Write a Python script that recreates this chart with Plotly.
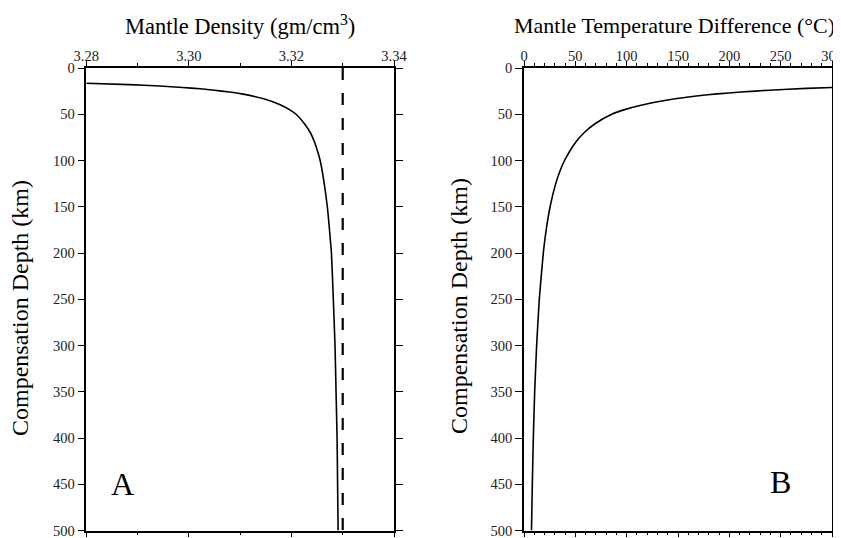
import plotly.graph_objects as go

# ---- data ----
depth_rho = [16.5, 18, 19.5, 21, 22.5, 24, 26, 28, 31, 33, 36, 40, 45, 50, 60, 70, 80, 90,
             100, 118, 150, 180, 200, 240, 300, 350, 400, 450, 500]
density = [3.2800, 3.2883, 3.2943, 3.2988, 3.3022, 3.3050, 3.3079, 3.3103, 3.3130, 3.3144,
           3.3161, 3.3179, 3.3196, 3.3209, 3.3225, 3.3237, 3.3245, 3.3251, 3.3256, 3.3262,
           3.3270, 3.3275, 3.3278, 3.3281, 3.3285, 3.3287, 3.3289, 3.3290, 3.3291]
ref_density = 3.33
ref_depth = [0, 500]

depth_t = [21, 22, 24, 26, 28, 30, 33, 36, 40, 45, 50, 60, 70, 80, 90, 100, 110, 125, 150,
           175, 200, 250, 300, 350, 400, 450, 500]
temp_diff = [300, 275, 239, 211, 188, 170, 149, 133, 115, 98, 85.5, 69.5, 58.5, 50.5, 44.5,
             39.5, 35.5, 30.9, 25.4, 21.6, 18.8, 14.9, 12.3, 10.4, 9.1, 8.1, 7.3]

rho_ticks = [3.28, 3.30, 3.32, 3.34]
depth_ticks = list(range(0, 501, 50))

FONT = "Times New Roman, Liberation Serif, Tinos, serif"
W, H = 841, 538
OFF = 8  # page body margin offset (pixels)


def px_x(p):
    return (p - OFF) / W


def px_y(p):
    return 1 - (p - OFF) / H


fig = go.Figure()
fig.add_trace(go.Scatter(x=density, y=depth_rho, mode="lines",
                         line=dict(color="black", width=1.6, shape="spline", smoothing=0.5),
                         xaxis="x", yaxis="y", showlegend=False, hoverinfo="skip"))
fig.add_trace(go.Scatter(x=[ref_density, ref_density], y=ref_depth, mode="lines",
                         line=dict(color="black", width=2.2, dash="12px,13px"),
                         xaxis="x", yaxis="y", showlegend=False, hoverinfo="skip"))
fig.add_trace(go.Scatter(x=temp_diff, y=depth_t, mode="lines",
                         line=dict(color="black", width=1.6, shape="spline", smoothing=0.5),
                         xaxis="x2", yaxis="y2", showlegend=False, hoverinfo="skip"))

ydom = [px_y(530.5), px_y(68)]
common_axis = dict(showgrid=False, zeroline=False, showline=True, linecolor="black",
                   linewidth=1.5, ticks="outside", tickcolor="black", tickwidth=1.2,
                   mirror="ticks", automargin=False,
                   tickfont=dict(family=FONT, size=14.5, color="#222"))

fig.update_layout(
    width=W, height=H, margin=dict(l=0, r=0, t=0, b=0, autoexpand=False),
    plot_bgcolor="white", paper_bgcolor="white",
    font=dict(family=FONT),
    xaxis=dict(domain=[px_x(86.3), px_x(394)], range=[3.28, 3.34], side="top",
               tickvals=rho_ticks, ticktext=["3.28", "3.30", "3.32", "3.34"], ticklen=5,
               ticklabelstandoff=-6,
               minor=dict(dtick=0.01, tick0=3.28, ticks="outside", ticklen=3,
                          tickcolor="black", tickwidth=1),
               anchor="y", **common_axis),
    yaxis=dict(domain=ydom, range=[500, 0], tickvals=depth_ticks, ticklen=7,
               anchor="x", **common_axis),
    xaxis2=dict(domain=[px_x(524), px_x(832)], range=[0, 300], side="top",
                dtick=50, tick0=0, ticklen=5, ticklabelstandoff=-6,
                minor=dict(dtick=10, ticks="outside", ticklen=3, tickcolor="black",
                           tickwidth=1),
                anchor="y2", **common_axis),
    yaxis2=dict(domain=ydom, range=[500, 0], tickvals=depth_ticks, ticklen=7,
                anchor="x2", **common_axis),
)

title_font = dict(family=FONT, size=22.5, color="black")
ytitle_font = dict(family=FONT, size=24, color="black")
fig.add_annotation(text="Mantle Density (gm/cm<sup>3</sup>)", xref="paper", yref="paper",
                   x=px_x(240), y=px_y(25), showarrow=False, font=title_font,
                   xanchor="center", yanchor="middle")
fig.add_annotation(text="Mantle Temperature Difference (°C)", xref="paper", yref="paper",
                   x=px_x(674), y=px_y(25), showarrow=False,
                   font=dict(family=FONT, size=22, color="black"),
                   xanchor="center", yanchor="middle")
fig.add_annotation(text="Compensation Depth (km)", xref="paper", yref="paper",
                   x=px_x(20), y=px_y(308), showarrow=False, font=ytitle_font,
                   textangle=-90, xanchor="center", yanchor="middle")
fig.add_annotation(text="Compensation Depth (km)", xref="paper", yref="paper",
                   x=px_x(459), y=px_y(306), showarrow=False, font=ytitle_font,
                   textangle=-90, xanchor="center", yanchor="middle")
fig.add_annotation(text="A", xref="x", yref="y", x=3.287, y=450, showarrow=False,
                   font=dict(family=FONT, size=32, color="black"))
fig.add_annotation(text="B", xref="x2", yref="y2", x=250, y=448, showarrow=False,
                   font=dict(family=FONT, size=32, color="black"))

fig.write_html("out.html")
